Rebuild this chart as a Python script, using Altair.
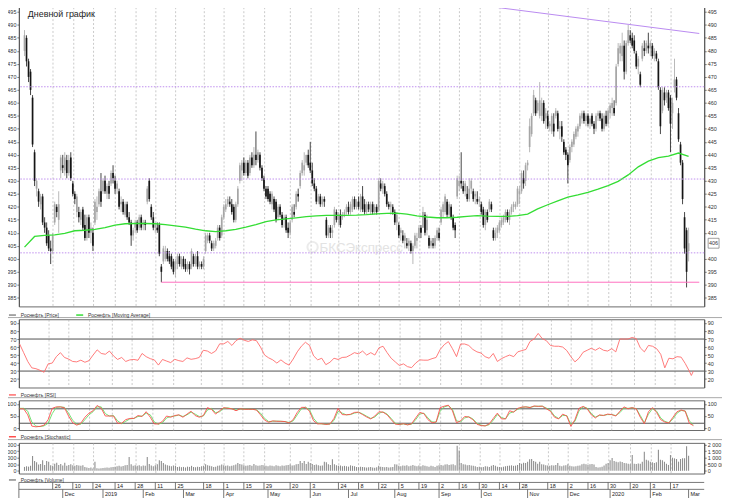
import altair as alt
import pandas as pd

FONT = "Liberation Sans"

# ---------------- trading calendar ----------------
holidays = ["2018-12-31", "2019-01-01", "2019-01-02", "2019-01-07", "2019-03-08",
            "2019-05-01", "2019-05-09", "2019-06-12", "2019-11-04", "2019-12-31",
            "2020-01-01", "2020-01-02", "2020-01-07", "2020-02-24"]
first_day, last_day = "2018-11-06", "2020-03-02"

# ---------------- daily candles ----------------
opens = [480,485,476,472,462,441,427,426,421,424, 414,412,409,404,403,414,420,415,434,436,
         434,438,433,439,429,425,418,418,415,419, 413,408,416,410,410,414,418,421,426,426,
         430,425,428,429,433,430,427,426,421,422, 417,421,416,414,409,412,414,412,416,413,
         414,422,430,420,416,412,412,413,397,399, 400,403,401,401,399,396,398,401,397,400,
         398,396,398,397,401,398,401,397,398,397, 403,407,409,406,404,405,408,412,409,416,
         419,421,422,421,420,415,421,430,434,437, 433,437,433,439,436,440,438,440,435,431,
         427,427,425,421,423,422,416,420,417,415, 416,412,410,415,418,420,425,428,433,434,
         437,440,437,434,429,427,422,424,421,423, 415,409,412,410,413,418,415,417,416,417,
         418,420,418,419,423,420,422,419,424,421, 418,421,418,421,418,420,419,429,427,428,
         425,421,420,420,418,414,413,410,409,407, 406,405,406,403,405,407,408,412,412,417,
         411,408,405,406,405,408,410,414,418,418, 422,417,420,416,413,424,428,430,428,426,
         425,423,427,426,424,423,422,421,419,413, 418,419,421,411,408,410,411,413,414,415,
         418,415,418,420,420,421,425,426,431,430, 436,443,448,456,461,457,455,455,460,454,
         455,451,449,452,455,456,450,451,445,442, 440,438,443,444,447,449,451,454,456,453,
         455,452,455,452,450,455,456,454,450,455, 452,456,458,458,460,475,479,478,482,472,
         483,486,485,484,479,474,471,477,481,480, 482,481,482,478,479,476,465,457,464,462,
         464,462,456,466,469,456,444,437,416,411, 403]
highs = [488,486,477,473,463,442,431,427,425,425, 416,414,411,407,410,422,421,426,440,440,
         441,440,440,441,430,426,425,420,419,420, 417,417,417,414,412,423,424,427,433,431,
         432,429,430,434,436,432,430,427,424,423, 422,422,418,415,412,415,415,417,417,415,
         415,428,431,421,418,414,414,414,398,405, 405,404,403,402,400,400,402,402,401,401,
         400,399,399,404,402,402,403,399,399,401, 410,410,410,407,407,408,413,413,417,421,
         423,424,424,423,421,422,428,437,438,439, 438,438,440,441,443,449,442,441,436,432,
         428,428,426,426,424,423,421,421,418,417, 417,414,415,421,421,426,427,434,438,441,
         440,442,445,437,431,428,425,425,424,424, 416,413,413,413,420,419,418,419,418,419,
         421,422,422,424,424,423,424,425,428,423, 422,422,422,422,421,421,431,431,430,429,
         426,422,422,421,419,418,414,412,411,410, 408,408,407,406,410,410,413,413,420,418,
         417,409,408,408,409,412,412,420,422,425, 423,422,421,417,414,432,432,441,430,430,
         428,431,431,427,426,426,424,422,420,419, 419,423,422,412,412,413,415,416,417,419,
         419,419,421,422,422,428,428,434,434,437, 438,454,456,465,462,461,468,462,461,458,
         457,453,456,456,458,457,453,453,446,443, 441,444,446,449,451,452,456,457,457,456,
         456,455,456,453,456,457,457,456,456,457, 458,460,462,461,475,483,483,487,484,484,
         490,488,487,486,480,478,472,483,484,484, 487,484,483,481,480,477,466,466,466,465,
         465,463,462,477,470,458,445,438,418,412, 412]
lows = [478,474,468,463,443,428,424,420,419,413, 410,405,403,398,402,413,416,410,431,433,
        432,431,432,430,424,421,416,414,413,411, 407,407,408,406,403,413,415,420,420,425,
        425,423,423,428,429,425,425,419,418,417, 416,415,413,405,407,410,410,411,411,411,
        411,421,422,415,411,410,410,401,391,398, 399,399,398,396,394,393,396,397,396,396,
        395,395,394,396,397,397,396,396,396,396, 402,406,406,403,403,404,407,407,408,415,
        418,420,420,417,414,414,420,429,430,432, 432,431,432,435,435,436,437,434,430,426,
        423,422,421,419,418,414,415,416,412,412, 410,408,409,414,416,419,422,427,432,432,
        436,435,433,428,426,421,421,420,420,420, 408,408,408,408,412,414,413,412,415,416,
        417,417,417,418,419,419,419,418,418,417, 417,418,417,417,417,417,418,426,425,424,
        420,419,417,417,413,411,408,407,406,404, 404,403,402,398,404,404,408,408,412,409,
        409,404,404,404,404,407,407,413,416,417, 416,416,415,411,408,423,426,427,425,424,
        422,422,425,422,421,421,420,417,412,411, 414,418,418,407,407,408,410,412,413,414,
        414,413,417,418,419,420,421,425,427,428, 434,441,447,455,455,456,454,453,452,450,
        450,449,448,447,454,449,446,445,440,438, 429,437,441,443,446,447,450,452,452,451,
        451,450,451,448,449,453,453,449,449,451, 451,454,455,455,459,474,476,476,469,471,
        482,483,481,479,473,471,466,476,478,479, 479,478,477,476,476,465,448,456,459,460,
        457,441,450,464,461,445,436,421,402,389, 399]
closes = [486,476,470,465,444,430,430,422,424,414, 412,406,404,403,409,421,418,421,439,435,
          439,433,438,431,425,423,424,416,418,412, 408,416,410,412,405,422,420,426,422,430,
          426,428,425,433,431,427,429,420,422,418, 421,416,414,409,411,414,411,416,412,414,
          413,427,423,416,412,413,411,402,395,404, 403,400,399,397,395,399,401,398,400,397,
          396,398,396,403,398,401,397,398,397,400, 409,409,407,404,406,407,412,408,416,420,
          421,423,421,418,415,421,427,436,437,433, 437,432,439,436,440,438,441,435,431,427,
          424,423,422,425,419,415,420,417,413,416, 411,410,414,420,417,425,424,433,437,436,
          440,436,434,429,427,422,424,421,423,422, 409,412,410,411,419,415,417,413,417,418,
          420,418,421,423,420,422,420,424,419,418, 421,419,421,418,420,418,430,427,429,425,
          421,420,421,418,414,417,409,411,407,409, 405,407,403,405,409,408,412,410,418,410,
          415,405,407,405,408,411,408,419,421,424, 417,421,416,412,411,431,430,429,426,429,
          423,427,430,423,425,422,423,418,413,418, 415,422,419,408,410,412,414,415,416,418,
          415,418,420,421,421,427,426,433,429,436, 437,451,455,463,456,460,461,460,453,456,
          451,452,455,449,457,450,451,447,441,440, 436,443,445,448,450,451,455,456,453,455,
          452,454,452,450,455,456,454,450,455,452, 457,459,460,456,474,481,482,482,472,483,
          488,484,482,480,474,477,467,482,480,483, 481,483,478,480,477,466,451,465,461,464,
          458,452,460,469,462,446,437,423,404,395, 406]
# daily volume, thousands
volume_k = [300,350,320,380,1130,750,650,480,520,800, 450,750,700,420,380,550,625,450,520,400,
            625,380,450,500,420,380,450,400,380,420, 300,260,220,260,180,700,200,180,200,220,
            230,250,240,280,300,320,350,380,330,360, 420,450,1050,500,380,420,380,420,350,400,
            380,1050,520,400,350,420,500,800,750,600, 480,420,380,350,400,380,300,320,280,300,
            260,320,300,380,300,280,320,300,350,380, 500,420,380,350,300,320,380,400,480,420,
            380,400,350,380,420,480,600,520,480,420, 380,400,450,380,520,420,380,400,450,420,
            380,350,400,380,350,420,380,350,400,380, 420,450,480,400,420,500,520,750,600,750,
            520,700,600,520,450,480,420,380,400,700, 650,500,450,875,500,420,380,400,350,380,
            350,320,420,380,350,300,280,320,300,280, 250,280,300,260,240,280,380,320,300,280,
            300,260,280,300,500,480,380,350,400,380, 420,350,380,450,380,350,400,350,420,380,
            350,320,380,350,300,380,420,450,400,480, 500,450,480,500,420,1900,1550,600,500,480,
            420,450,400,380,350,300,320,280,300,350, 330,300,380,450,380,320,300,280,320,350,
            380,400,420,380,400,450,600,550,620,600, 700,875,900,750,700,550,700,500,480,420,
            400,380,420,400,450,600,380,350,400,420, 500,380,350,330,350,380,400,500,550,500,
            450,500,520,480,300,250,280,320,400,540, 600,800,970,750,700,650,720,680,600,580,
            550,500,1200,550,520,560,540,700,1450,850, 780,700,650,600,650,1600,850,800,700,550,
            450,1200,1000,950,900,700,900,950,950,1870, 1150]
# moving average, every 5th trading day
ma_values = [404.5,408.6,409.0,409.2,409.8,410.8,411.0,411.3,412.0,413.0,
             413.5,413.6,413.6,413.5,413.2,412.7,412.2,411.4,410.8,410.5,
             410.8,411.3,412.2,413.2,414.3,415.0,415.4,415.8,416.2,416.5,
             416.7,416.7,416.7,416.8,417.0,417.3,417.5,417.6,417.2,416.5,
             416.1,415.8,415.8,416.0,416.3,416.6,416.4,416.3,416.3,416.6,
             417.2,419.2,420.8,422.3,423.7,424.6,425.6,426.8,428.2,429.8,
             432.3,435.4,437.6,438.9,439.5,440.7,439.4]
# RSI, every 2nd trading day, then the last two days
rsi_values = [64,53,42,34,33,31,28.5,39,40,48, 53,47,45,42,41.5,43.6,41,43,50,56.5,
              52,51,55,49,44.5,47,42,44,44.5,43.5, 52,48,45.5,44,37.5,44.5,42.5,40.6,44.7,43,
              42,46.5,44.7,45.5,47,56,55,52,55,64, 64,67,62,68,71,68.5,67,69,68,60,
              50,46.5,44,40,44,40,37.5,45,54,61, 66,62,49,44,46,38,41,46,44.5,47,
              47.4,50,53,51.5,55,50,53,50,59,61, 53,46,41.5,37,39,35.5,34.3,40,44,43.6,
              43.6,45.5,47,57,63,66.8,58,48,63.8,63.8, 62,57,54,52.5,48,46,52,42,45.5,48,
              50,48,54,55.6,57,67,70,77,70.5,68, 62,61,61,60,55.6,48,41.5,46,53.5,56,
              58.5,56,59,56,55,58,54,70,70,70, 72,70.5,59,54,62,61,58,51,34,46,
              45.3,48,47.4,39.5,30, 24.5,30]
# stochastic %K and %D, every 2nd trading day
stoch_k = [80,80,55,8,5,7,12,35,82,88, 88,84,50,22,12,20,45,62,72,94,
           82,50,50,50,20,20,35,40,40,52, 48,68,45,17,17,28,50,45,52,55,
           45,58,70,52,45,52,85,78,58,72, 85,82,80,72,80,78,78,78,75,55,
           33,24,30,28,28,27,21,35,65,86, 86,70,30,17,18,15,17,40,82,56,
           55,57,65,66,56,46,38,50,68,66, 55,35,16,15,18,13,18,42,65,60,
           35,22,25,85,91,95,72,22,30,48, 46,35,16,10,9,17,40,62,38,38,
           72,66,82,87,88,85,92,90,91,80, 70,45,38,58,50,7,35,82,90,80,
           55,42,55,52,58,56,50,70,88,80, 85,80,45,18,68,85,65,35,25,21,
           45,68,75,70,20,10]
stoch_d = [82,82,70,25,8,6,9,20,60,86, 88,86,62,32,16,16,35,55,68,88,
           88,60,50,52,30,18,28,38,40,48, 50,62,55,25,16,22,42,48,50,54,
           48,55,66,58,48,50,75,82,64,68, 82,84,80,75,78,79,78,78,76,62,
           40,27,28,29,28,27,23,30,55,80, 87,76,40,20,17,16,16,32,70,62,
           55,56,62,66,59,49,40,46,62,67, 58,40,20,15,17,14,16,35,58,62,
           42,26,24,70,88,93,78,30,26,42, 47,38,20,12,9,14,33,56,44,38,
           62,68,78,86,88,86,90,91,91,83, 73,50,40,52,52,15,28,72,88,83,
           60,46,52,53,56,56,52,64,83,82, 84,81,52,22,58,81,70,42,28,22,
           38,62,73,71,30,13]

# drawn levels and trend line
level_values = [466.2, 430.7, 402.3]
support_value = 391
support_from = "2019-02-14"
trend_days = [218, 335.3]
trend_values = [498.4, 486.7]

day_tick_dates = ["2018-11-26", "2018-12-10", "2018-12-24", "2019-01-14", "2019-01-28",
                  "2019-02-11", "2019-02-25", "2019-03-18", "2019-04-01", "2019-04-15",
                  "2019-04-29", "2019-05-20", "2019-06-03", "2019-06-24", "2019-07-08",
                  "2019-07-22", "2019-08-05", "2019-08-19", "2019-09-02", "2019-09-16",
                  "2019-09-30", "2019-10-14", "2019-10-28", "2019-11-18", "2019-12-02",
                  "2019-12-16", "2019-12-30", "2020-01-20", "2020-02-03", "2020-02-17"]

L_PRICE = "Роснефть [Price]"
L_MA = "Роснефть [Moving Average]"
L_RSI = "Роснефть [RSI]"
L_STO = "Роснефть [Stochastic]"
L_VOL = "Роснефть [Volume]"

# ---------------- frames ----------------
dates = pd.bdate_range(first_day, last_day, freq="C", holidays=holidays)
N = min(len(dates), len(opens), len(highs), len(lows), len(closes), len(volume_k))
date_str = list(dates.strftime("%Y-%m-%d"))
idx_of = {d: k for k, d in enumerate(date_str)}

candles = pd.DataFrame({"i": range(N), "o": opens[:N], "h": highs[:N],
                        "l": lows[:N], "c": closes[:N]})
vol_df = pd.DataFrame({"i": range(N), "v": [v * 1000 for v in volume_k[:N]], "series": L_VOL})
ma_days = list(range(0, 331, 5))
ma_df = pd.DataFrame({"i": ma_days[:len(ma_values)], "ma": ma_values[:len(ma_days)], "series": L_MA})
rsi_days = list(range(0, 329, 2)) + [329, 330]
m = min(len(rsi_days), len(rsi_values))
rsi_df = pd.DataFrame({"i": rsi_days[:m], "v": rsi_values[:m], "series": L_RSI})
sto_days = list(range(0, 331, 2))
mk = min(len(sto_days), len(stoch_k), len(stoch_d))
sto_df = pd.DataFrame({"i": sto_days[:mk], "k": stoch_k[:mk], "d": stoch_d[:mk], "series": L_STO})

grid_idx = [idx_of[d] for d in day_tick_dates]
day_df = pd.DataFrame({"i": grid_idx, "label": [str(int(d[-2:])) for d in day_tick_dates]})
ser = pd.Series(range(len(dates)), index=dates)
firsts = ser.groupby([dates.year, dates.month]).first().tolist()[1:]
mon_labels = [str(dates[k].year) if dates[k].month == 1 else dates[k].strftime("%b") for k in firsts]
mon_df = pd.DataFrame({"i": firsts, "label": mon_labels})

levels_df = pd.DataFrame({"v": level_values})
sup_df = pd.DataFrame({"i": [idx_of[support_from]], "i2": [335.3], "v": [support_value]})
trend_df = pd.DataFrame({"i": trend_days, "v": trend_values})
last_df = pd.DataFrame({"lo": [closes[N - 1] - 1.9], "hi": [closes[N - 1] + 1.9],
                        "c": [closes[N - 1]], "t": [str(closes[N - 1])]})
one = pd.DataFrame({"k": [0]})

# ---------------- geometry ----------------
W, H_P, H_R, H_S, H_V = 693, 307, 69, 30, 31

xs = alt.Scale(domain=[-0.34, 335.3], nice=False, zero=False)
gx = alt.Axis(values=grid_idx, grid=True, gridDash=[2, 2], gridColor="#b2b2b2", gridWidth=0.7,
              labels=False, ticks=False, domain=False, title=None)


def X():
    return alt.X("i:Q", scale=xs, axis=gx)


def Y(field, scale, axis):
    return alt.Y(f"{field}:Q", scale=scale, axis=axis)


def leg(y, stroke=None):
    kw = dict(orient="none", legendX=-11, legendY=y, direction="horizontal", title=None,
              symbolType="stroke", symbolSize=50, symbolStrokeWidth=1.5, labelFont=FONT,
              labelFontSize=5, labelColor="#333333", columnPadding=13, padding=0, labelLimit=300)
    if stroke:
        kw["symbolStrokeColor"] = stroke
    return alt.Legend(**kw)


def divider(y):
    return alt.Chart(one).mark_rule(color="#a8a8a8", strokeWidth=1).encode(
        x=alt.value(-40), x2=alt.value(W + 40), y=alt.value(y))


def frame_guide(y):
    # white guide line lying outside the visible page; it fixes the outer extent of the drawing
    return alt.Chart(one).mark_rule(strokeWidth=1, color="white").encode(
        x=alt.value(-60), x2=alt.value(W + 60), y=alt.value(y))


def axes(vals, expr=None, right_vals=None):
    kw = dict(title=None, grid=False, labelOverlap=False)
    if expr:
        kw["labelExpr"] = expr
    return (alt.Axis(orient="left", values=vals, **kw),
            alt.Axis(orient="right", values=right_vals if right_vals is not None else vals, **kw))


# ---------------- price panel ----------------
ys_p = alt.Scale(domain=[381.7, 498.5], nice=False, zero=False)
p_ticks = list(range(385, 500, 5))
ax_pl, ax_pr = axes(p_ticks, right_vals=[v for v in p_ticks if abs(v - closes[N - 1]) > 2.5])
candle_color = alt.condition("datum.c >= datum.o", alt.value("#a6a6a6"), alt.value("#151515"))

wm_ring = alt.Chart(one).mark_point(shape="circle", size=110, filled=False, strokeWidth=2,
                                    color="#e3e3e3").encode(x=alt.value(297), y=alt.value(247))
wm_text = alt.Chart(one).mark_text(text="БКСЭкспресс", font=FONT, fontSize=13.5, color="#e3e3e3",
                                   align="left", baseline="middle").encode(x=alt.value(304), y=alt.value(247.5))
wicks = alt.Chart(candles).mark_rule(strokeWidth=0.8).encode(
    x=X(), y=Y("l", ys_p, ax_pl), y2="h:Q", color=candle_color)
bodies = alt.Chart(candles).mark_bar(size=1.7).encode(
    x=X(), y=Y("o", ys_p, ax_pl), y2="c:Q", color=candle_color)
ma_line = alt.Chart(ma_df).mark_line(strokeWidth=1.3).encode(
    x=X(), y=Y("ma", ys_p, ax_pl),
    color=alt.Color("series:N", scale=alt.Scale(domain=[L_PRICE, L_MA], range=["#8a8a8a", "#33dd33"]),
                    legend=leg(H_P + 4)))
levels = alt.Chart(levels_df).mark_rule(color="#bf8fef", strokeWidth=1, strokeDash=[1.5, 1.5]).encode(
    y=Y("v", ys_p, ax_pl))
support = alt.Chart(sup_df).mark_rule(color="#ff6fbf", strokeWidth=1).encode(
    x=X(), x2="i2:Q", y=Y("v", ys_p, ax_pl))
trend = alt.Chart(trend_df).mark_line(color="#b98af0", strokeWidth=1).encode(
    x=X(), y=Y("v", ys_p, ax_pl))
title = alt.Chart(one).mark_text(text="Дневной график", font=FONT, fontSize=9, color="#1e1e1e",
                                 align="left", baseline="middle").encode(x=alt.value(9), y=alt.value(11))
box = alt.Chart(last_df).mark_rect(fill="white", stroke="#777777", strokeWidth=0.7).encode(
    x=alt.value(W + 4), x2=alt.value(W + 15), y=Y("lo", ys_p, ax_pl), y2="hi:Q")
box_t = alt.Chart(last_df).mark_text(font=FONT, fontSize=5.5, color="#333333").encode(
    x=alt.value(W + 9.5), y=Y("c", ys_p, ax_pl), text="t:N")
p_right = alt.Chart(candles).mark_point(opacity=0).encode(x=X(), y=Y("c", ys_p, ax_pr))

price = alt.layer(
    alt.layer(frame_guide(-20), wm_ring, wm_text, wicks, bodies, ma_line, levels, support, trend,
              title, box, box_t, divider(H_P + 11.3)),
    p_right).resolve_scale(y="independent").properties(width=W, height=H_P)

# ---------------- RSI panel ----------------
ys_r = alt.Scale(domain=[9.5, 94.7], nice=False, zero=False)
ax_rl, ax_rr = axes(list(range(20, 100, 10)))
rsi_lv = alt.Chart(pd.DataFrame({"v": [30, 70]})).mark_rule(color="#505050", strokeWidth=1).encode(
    y=Y("v", ys_r, ax_rl))
rsi_line = alt.Chart(rsi_df).mark_line(strokeWidth=0.9).encode(
    x=X(), y=Y("v", ys_r, ax_rl),
    color=alt.Color("series:N", scale=alt.Scale(domain=[L_RSI], range=["#ff6b6b"]), legend=leg(H_R + 3)))
r_right = alt.Chart(rsi_df).mark_point(opacity=0).encode(x=X(), y=Y("v", ys_r, ax_rr))
rsi = alt.layer(alt.layer(rsi_lv, rsi_line, divider(H_R + 10.3)), r_right).resolve_scale(
    y="independent").properties(width=W, height=H_R)

# ---------------- stochastic panel ----------------
ys_s = alt.Scale(domain=[-8.2, 115.2], nice=False, zero=False)
ax_sl, ax_sr = axes([0, 50, 100])
sto_lv = alt.Chart(pd.DataFrame({"v": [20, 80]})).mark_rule(color="#505050", strokeWidth=1).encode(
    y=Y("v", ys_s, ax_sl))
sto_d = alt.Chart(sto_df).mark_line(strokeWidth=0.9, color="#66dd66").encode(x=X(), y=Y("d", ys_s, ax_sl))
sto_k = alt.Chart(sto_df).mark_line(strokeWidth=0.9).encode(
    x=X(), y=Y("k", ys_s, ax_sl),
    color=alt.Color("series:N", scale=alt.Scale(domain=[L_STO], range=["#ff4d4d"]), legend=leg(H_S + 2.3)))
s_right = alt.Chart(sto_df).mark_point(opacity=0).encode(x=X(), y=Y("k", ys_s, ax_sr))
stoch = alt.layer(alt.layer(sto_lv, sto_d, sto_k, divider(H_S + 9.7)), s_right).resolve_scale(
    y="independent").properties(width=W, height=H_S)

# ---------------- volume panel + date rows ----------------
ys_v = alt.Scale(domain=[-203000, 2128000], nice=False, zero=False)
ax_vl, ax_vr = axes([0, 500000, 1000000, 1500000, 2000000],
                    "replace(format(datum.value, ','), regexp(',', 'g'), ' ')")
vol_bars = alt.Chart(vol_df).mark_bar(size=1.1).encode(
    x=X(), y=Y("v", ys_v, ax_vl),
    color=alt.Color("series:N", scale=alt.Scale(domain=[L_VOL], range=["#8e8e8e"]),
                    legend=leg(H_V + 2, stroke="#8a8a8a")))
v_right = alt.Chart(vol_df).mark_point(opacity=0).encode(x=X(), y=Y("v", ys_v, ax_vr))

row_col = "#555555"
top_line = alt.Chart(one).mark_rule(color=row_col, strokeWidth=0.8).encode(
    x=alt.value(0), x2=alt.value(W), y=alt.value(40))
sep_line = alt.Chart(one).mark_rule(color=row_col, strokeWidth=0.8).encode(
    x=alt.value(0), x2=alt.value(W), y=alt.value(47))
left_border = alt.Chart(one).mark_rule(color=row_col, strokeWidth=0.8).encode(
    x=alt.value(0), y=alt.value(40), y2=alt.value(56))
day_rules = alt.Chart(day_df).mark_rule(color=row_col, strokeWidth=0.8).encode(
    x=X(), y=alt.value(40), y2=alt.value(47))
day_text = alt.Chart(day_df).mark_text(align="left", baseline="middle", dx=2, font=FONT,
                                       fontSize=5.5, color="#222222").encode(
    x=X(), y=alt.value(43.6), text="label:N")
mon_rules = alt.Chart(mon_df).mark_rule(color=row_col, strokeWidth=0.8).encode(
    x=X(), y=alt.value(47), y2=alt.value(56))
mon_text = alt.Chart(mon_df).mark_text(align="left", baseline="middle", dx=2, font=FONT,
                                       fontSize=5.5, color="#222222").encode(
    x=X(), y=alt.value(51.6), text="label:N")

vol = alt.layer(
    alt.layer(frame_guide(H_V + 70), vol_bars, top_line, sep_line, left_border, day_rules, day_text,
              mon_rules, mon_text),
    v_right).resolve_scale(y="independent").properties(width=W, height=H_V)

# outer extent: x -60.5..W+60.5 (61 px each side), y -20.5..(445+101.5)
chart = alt.vconcat(price, rsi, stoch, vol, spacing=13, bounds="flush").resolve_scale(
    color="independent").resolve_legend(color="independent").properties(
    padding={"left": -50, "top": -29, "right": -43, "bottom": -49},
    autosize=alt.AutoSizeParams(type="pad"),
    background="white",
).configure_view(stroke="#6a6a6a", strokeWidth=1).configure_axis(
    labelFont=FONT, labelFontSize=5.5, labelColor="#333333", tickColor="#555555",
    domainColor="#555555", tickSize=2, labelPadding=1, tickWidth=0.8, domainWidth=1)

chart.save("out.html", embed_options={"renderer": "svg", "actions": False})
